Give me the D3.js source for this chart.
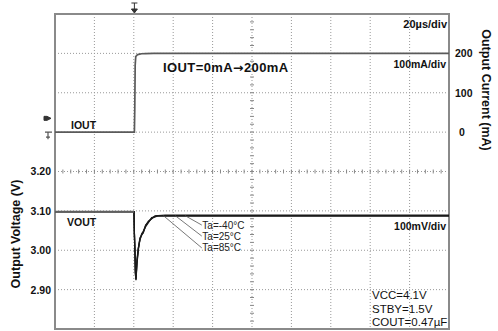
<!DOCTYPE html>
<html><head><meta charset="utf-8">
<script src="https://cdn.jsdelivr.net/npm/d3@7"></script>
<style>
html,body{margin:0;padding:0;background:#fff;}
svg{display:block;font-family:"Liberation Sans",Arial,sans-serif;}
</style></head>
<body>
<svg id="c" width="498" height="331"></svg>
<script>
// ---- data ----
const timeUs = [0, 40.3, 40.5, 40.7, 41.0, 41.5, 42.0, 43.0, 44.0, 46.0, 50.0, 60.0, 200];
const ioutMa = [0, 0, 60, 170, 192, 195, 197, 198, 199, 199.5, 200, 200, 200];

const voutTime = [0, 40.1, 40.3, 40.6, 40.8, 41.1, 41.6, 42.3, 43.1, 44.0, 44.8, 46.0, 47.4, 49.1, 50.8, 52.3, 56, 200];
const vout40 = [3.098, 3.098, 3.044, 3.000, 2.950, 2.924, 2.965, 3.001, 3.031, 3.038, 3.046, 3.064, 3.072, 3.081, 3.086, 3.088, 3.089, 3.089];
const vout25 = [3.098, 3.098, 3.042, 2.995, 2.945, 2.926, 2.970, 3.004, 3.028, 3.040, 3.044, 3.062, 3.074, 3.080, 3.087, 3.088, 3.088, 3.088];
const vout85 = [3.098, 3.098, 3.040, 2.990, 2.940, 2.928, 2.975, 3.006, 3.025, 3.042, 3.048, 3.060, 3.070, 3.083, 3.085, 3.087, 3.087, 3.087];

const voltTicks = [2.90, 3.00, 3.10, 3.20];
const currTicks = [0, 100, 200];
const timeGrid = [0, 20, 40, 60, 80, 100, 120, 140, 160, 180, 200];
const currGrid = [-500, -400, -300, -200, -100, 0, 100, 200, 300];

const tempLabels = ["Ta=-40°C", "Ta=25°C", "Ta=85°C"];
const tempLeaderT = [66, 61, 55];          // where the leader leaves the trace (µs)
const tempLeaderV = [3.064, 3.036, 3.006]; // where the leader ends (V)

// ---- scales ----
const x = d3.scaleLinear().domain([0, 200]).range([55, 449]);
const yI = d3.scaleLinear().domain([-500, 300]).range([329, 14]);
const yV = d3.scaleLinear().domain([2.8, 3.6]).range([329, 14]);

const svg = d3.select("#c");

// grid
const g = svg.append("g");
g.selectAll(".vg").data(timeGrid.slice(1, -1)).join("line")
  .attr("x1", d => x(d)).attr("x2", d => x(d)).attr("y1", 14).attr("y2", 329)
  .attr("stroke", "#999").attr("stroke-width", 1).attr("stroke-dasharray", "1,2");
g.selectAll(".hg").data(currGrid.slice(1, -1)).join("line")
  .attr("y1", d => yI(d)).attr("y2", d => yI(d)).attr("x1", 55).attr("x2", 449)
  .attr("stroke", "#999").attr("stroke-width", 1).attr("stroke-dasharray", "1,2");

// centre crosshair minor ticks
const xc = x(100), yc = yV(3.2);
const minorX = d3.range(0, 200.01, 4);
g.selectAll(".mx").data(minorX).join("line")
  .attr("x1", d => x(d)).attr("x2", d => x(d)).attr("y1", yc - 2).attr("y2", yc + 2)
  .attr("stroke", "#888").attr("stroke-width", 1);
const minorY = d3.range(-500, 300.01, 20);
g.selectAll(".my").data(minorY).join("line")
  .attr("y1", d => yI(d)).attr("y2", d => yI(d)).attr("x1", xc - 2).attr("x2", xc + 2)
  .attr("stroke", "#888").attr("stroke-width", 1);

// frame
svg.append("rect").attr("x", 55).attr("y", 14).attr("width", 394).attr("height", 315)
  .attr("fill", "none").attr("stroke", "#8a8a8a").attr("stroke-width", 2);

// axes
const axL = svg.append("g").attr("transform", "translate(53,0)")
  .call(d3.axisLeft(yV).tickValues(voltTicks).tickSize(0).tickPadding(2).tickFormat(d3.format(".2f")));
axL.select(".domain").remove();
axL.selectAll("text").attr("font-size", 10.5).attr("font-weight", "bold").attr("fill", "#111")
  .attr("font-family", "Liberation Sans, Arial, sans-serif");
const axR = svg.append("g").attr("transform", "translate(453,0)")
  .call(d3.axisRight(yI).tickValues(currTicks).tickSize(0).tickPadding(2));
axR.select(".domain").remove();
axR.selectAll("text").attr("font-size", 10.5).attr("font-weight", "bold").attr("fill", "#111")
  .attr("font-family", "Liberation Sans, Arial, sans-serif");
axR.selectAll(".tick").filter(d => d === 0).select("text").attr("dx", 4);

// axis titles
svg.append("text").attr("transform", "translate(482,90) rotate(90)")
  .attr("text-anchor", "middle").attr("font-size", 12.5).attr("font-weight", "bold").attr("fill", "#111")
  .text("Output Current (mA)");
svg.append("text").attr("transform", "translate(20,234) rotate(-90)")
  .attr("text-anchor", "middle").attr("font-size", 12.5).attr("font-weight", "bold").attr("fill", "#111")
  .text("Output Voltage (V)");

// traces
const lineI = d3.line().x((d, i) => x(timeUs[i])).y(d => yI(d));
svg.append("path").datum(ioutMa).attr("d", lineI).attr("fill", "none")
  .attr("stroke", "#5a5a5a").attr("stroke-width", 1.7);

const lineV = d3.line().x((d, i) => x(voutTime[i])).y(d => yV(d));
[vout85, vout25, vout40].forEach(s => {
  svg.append("path").datum(s).attr("d", lineV).attr("fill", "none")
    .attr("stroke", "#1a1a1a").attr("stroke-width", 1.3);
});
// pre-trigger portion lighter
svg.append("line").attr("x1", x(0)).attr("x2", x(40.1)).attr("y1", yV(3.098)).attr("y2", yV(3.098))
  .attr("stroke", "#606060").attr("stroke-width", 2);

// leaders and temperature labels
tempLabels.forEach((t, i) => {
  svg.append("line").attr("x1", x(tempLeaderT[i])).attr("y1", yV(3.088))
    .attr("x2", x(74.5)).attr("y2", yV(tempLeaderV[i]))
    .attr("stroke", "#555").attr("stroke-width", 0.8);
  svg.append("text").attr("x", x(74.8)).attr("y", yV(tempLeaderV[i]) + 3.5)
    .attr("font-size", 10).attr("fill", "#222").text(t);
});

// in-plot texts
const txt = (s, xx, yy, size, weight, anchor) => svg.append("text").attr("x", xx).attr("y", yy)
  .attr("font-size", size).attr("font-weight", weight || "bold").attr("fill", "#111")
  .attr("text-anchor", anchor || "start").text(s);
txt("20µs/div", 447, 28, 11, "bold", "end");
txt("100mA/div", 446, 68, 10.5, "bold", "end");
const title = svg.append("text").attr("x", 163).attr("y", 72).attr("font-size", 13)
  .attr("font-weight", "bold").attr("fill", "#111").attr("letter-spacing", 0.4);
title.append("tspan").text("IOUT=0mA");
title.append("tspan").attr("font-family", "DejaVu Sans").attr("font-size", 12.5).text("→");
title.append("tspan").text("200mA");
txt("IOUT", 71, 129, 10.5, "bold");
txt("VOUT", 67, 226, 10.5, "bold");
txt("100mV/div", 446, 230, 10.5, "bold", "end");
txt("VCC=4.1V", 372, 299, 11.5, "normal");
txt("STBY=1.5V", 372, 312.5, 11.5, "normal");
txt("COUT=0.47µF", 372, 326, 11.5, "normal");

// trigger marker (top) and channel markers (left)
const tx = x(40.3);
svg.append("path").attr("d", `M${tx - 3},3 L${tx + 3},3 M${tx},3 L${tx},9 M${tx - 3},9 L${tx + 3},9 L${tx},13 Z`)
  .attr("stroke", "#333").attr("stroke-width", 1).attr("fill", "#333");
const m1 = yI(35);
svg.append("path").attr("d", `M44,${m1 - 2} L47,${m1 - 2} L51,${m1} L47,${m1 + 2} L44,${m1 + 2} Z`)
  .attr("stroke", "#333").attr("stroke-width", 1).attr("fill", "#333");
const m0 = yI(0);
svg.append("path").attr("d", `M45,${m0} L52,${m0} M48,${m0} L48,${m0 + 7} M46,${m0 + 5} L50,${m0 + 5}`)
  .attr("stroke", "#555").attr("stroke-width", 1.2).attr("fill", "none");
</script>
</body></html>
